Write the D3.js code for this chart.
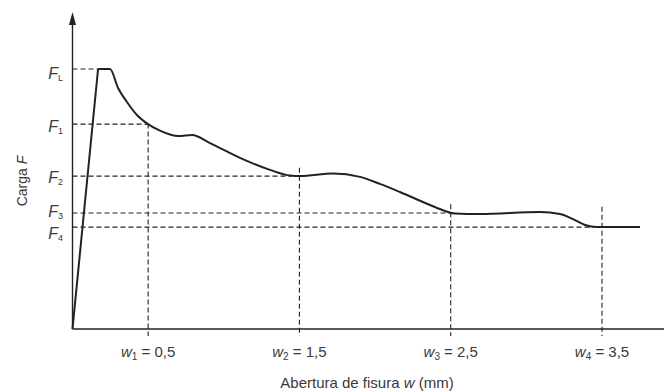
<!DOCTYPE html>
<html>
<head>
<meta charset="utf-8">
<script src="https://cdn.jsdelivr.net/npm/d3@7"></script>
<style>
  body { margin: 0; background: #fff; }
  svg text { font-family: "Liberation Sans", Arial, sans-serif; fill: #3a3a3a; }
</style>
</head>
<body>
<div id="chart"></div>
<script>
var width = 664,
    height = 392;

// curve: crack opening w (mm) vs load F (F_L = 1)
var curveW = [0, 0.169, 0.248, 0.301, 0.360, 0.426, 0.499, 0.578, 0.700, 0.790, 0.909, 1.107, 1.305, 1.438, 1.504, 1.722, 1.900, 2.032, 2.164, 2.363, 2.462, 2.528, 2.693, 3.090, 3.222, 3.321, 3.388, 3.467, 3.751];
var curveF = [0, 1.0, 1.0, 0.927, 0.873, 0.823, 0.788, 0.763, 0.742, 0.746, 0.715, 0.658, 0.612, 0.590, 0.588, 0.598, 0.585, 0.558, 0.527, 0.477, 0.454, 0.444, 0.442, 0.450, 0.442, 0.419, 0.400, 0.392, 0.392];

// reference loads and where their dashed lines meet the curve
var loadNames = ["L", "1", "2", "3", "4"];
var loadValues = [1.0, 0.788, 0.588, 0.446, 0.392];
var loadReachW = [0.169, 0.5, 1.45, 2.5, 3.45];

// crack openings
var wNames = ["1", "2", "3", "4"];
var wValues = [0.5, 1.5, 2.5, 3.5];
var wTopF = [0.79, 0.62, 0.48, 0.47];
var wLabels = ["0,5", "1,5", "2,5", "3,5"];

var x = d3.scaleLinear().domain([0, 3.5]).range([72.5, 602]);
var y = d3.scaleLinear().domain([0, 1]).range([329, 69]);

var svg = d3.select("#chart").append("svg")
    .attr("width", width)
    .attr("height", height);

var dash = "5,3";
// label baseline nudges (F3 and F4 sit close together)
var labelDy = [10, 8, 7, 4, 12];

// horizontal dashed load lines
loadValues.forEach(function (v, i) {
    svg.append("line")
        .attr("x1", x(0)).attr("x2", x(loadReachW[i]))
        .attr("y1", y(v)).attr("y2", y(v))
        .attr("stroke", "#222").attr("stroke-width", 1.1)
        .attr("stroke-dasharray", dash);
    var t = svg.append("text")
        .attr("x", 63).attr("y", y(v) + labelDy[i])
        .attr("text-anchor", "end")
        .attr("font-size", 16);
    t.append("tspan").attr("font-style", "italic").text("F");
    t.append("tspan").attr("font-size", 9).attr("dy", 2).text(loadNames[i]);
});

// vertical dashed opening lines
wValues.forEach(function (v, i) {
    svg.append("line")
        .attr("x1", x(v)).attr("x2", x(v))
        .attr("y1", y(wTopF[i])).attr("y2", y(0) + 7)
        .attr("stroke", "#222").attr("stroke-width", 1.1)
        .attr("stroke-dasharray", dash);
    var t = svg.append("text")
        .attr("x", x(v)).attr("y", 357)
        .attr("text-anchor", "middle")
        .attr("font-size", 15);
    t.append("tspan").attr("font-style", "italic").text("w");
    t.append("tspan").attr("font-size", 10).attr("dy", 3).text(wNames[i]);
    t.append("tspan").attr("dy", -3).text(" = " + wLabels[i]);
});

// axes
svg.append("line")
    .attr("x1", x(0)).attr("x2", x(0))
    .attr("y1", y(0)).attr("y2", 20)
    .attr("stroke", "#222").attr("stroke-width", 1.4);
svg.append("path")
    .attr("d", "M" + (x(0) - 3.5) + ",25 L" + x(0) + ",12 L" + (x(0) + 3.5) + ",25 Z")
    .attr("fill", "#222");
svg.append("line")
    .attr("x1", x(0)).attr("x2", width)
    .attr("y1", y(0)).attr("y2", y(0))
    .attr("stroke", "#222").attr("stroke-width", 1.4);

// load-opening curve
var pts = curveW.map(function (d, i) { return [d, curveF[i]]; });
svg.append("path")
    .datum(pts.slice(0, 2))
    .attr("d", d3.line().x(d => x(d[0])).y(d => y(d[1])))
    .attr("fill", "none").attr("stroke", "#222").attr("stroke-width", 2);
svg.append("path")
    .datum(pts.slice(1))
    .attr("d", d3.line().x(d => x(d[0])).y(d => y(d[1])).curve(d3.curveMonotoneX))
    .attr("fill", "none").attr("stroke", "#222").attr("stroke-width", 2)
    .attr("stroke-linejoin", "round");

// axis titles
var yt = svg.append("text")
    .attr("transform", "translate(27,181) rotate(-90)")
    .attr("text-anchor", "middle")
    .attr("font-size", 14);
yt.append("tspan").text("Carga ");
yt.append("tspan").attr("font-style", "italic").text("F");

var xt = svg.append("text")
    .attr("x", 367).attr("y", 388)
    .attr("text-anchor", "middle")
    .attr("font-size", 15);
xt.append("tspan").text("Abertura de fisura ");
xt.append("tspan").attr("font-style", "italic").text("w");
xt.append("tspan").text(" (mm)");
</script>
</body>
</html>
